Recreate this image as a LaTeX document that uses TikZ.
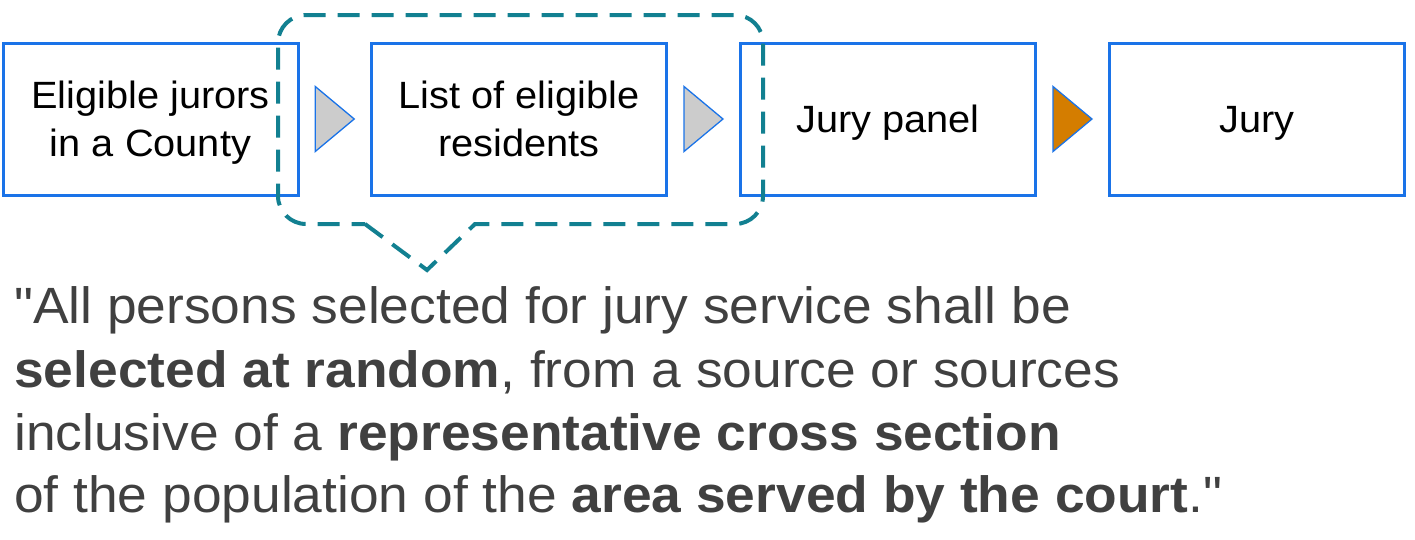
\documentclass[tikz,border=0pt]{standalone}
\usepackage{fontspec}
\setmainfont{Liberation Sans}[Ligatures=TeXOff]
\usetikzlibrary{calc}
\definecolor{boxblue}{RGB}{26,115,232}
\definecolor{calloutteal}{RGB}{18,128,145}
\definecolor{trigray}{RGB}{204,204,204}
\definecolor{triorange}{RGB}{212,125,0}
\definecolor{quotegray}{RGB}{64,64,64}
\newcommand\hwide[1]{\scalebox{1.046}[1]{#1}}
\tikzset{
  stagebox/.style={draw=boxblue, line width=3pt, fill=white, minimum width=295pt, minimum height=152pt, inner sep=0pt, align=center, text height=27pt, text depth=0pt, font=\fontsize{38}{48}\selectfont},
  twoline/.style={text height=75pt},
  tri/.style={draw=boxblue, line width=1.3pt, fill=trigray, line join=miter},
  trio/.style={tri, fill=triorange},
  callout/.style={draw=calloutteal, line width=4pt, dash pattern=on 22pt off 12pt},
  quoteline/.style={anchor=base west, inner sep=0pt, text=quotegray, font=\fontsize{51}{63}\selectfont}
}
\begin{document}
\begin{tikzpicture}[x=1pt, y=-1pt]
\useasboundingbox (0,0) rectangle (1415,539);
\node[stagebox, twoline] (b1) at (150.5,119) {\hwide{Eligible jurors}\\\hwide{in a County}};
\node[stagebox, twoline] (b2) at (519,119) {\hwide{List of eligible}\\\hwide{residents}};
\node[stagebox] (b3) at (888,119) {\hwide{Jury panel}};
\node[stagebox] (b4) at (1257,119) {\hwide{Jury}};
\path (b1.east) -- (b2.west) coordinate[pos=0.5] (m1);
\path (b2.east) -- (b3.west) coordinate[pos=0.5] (m2);
\path (b3.east) -- (b4.west) coordinate[pos=0.5] (m3);
\filldraw[tri] ($(m1)+(-19.5,-32.5)$) -- ($(m1)+(19.5,0)$) -- ($(m1)+(-19.5,32.5)$) -- cycle;
\filldraw[tri] ($(m2)+(-19.5,-32.5)$) -- ($(m2)+(19.5,0)$) -- ($(m2)+(-19.5,32.5)$) -- cycle;
\filldraw[trio] ($(m3)+(-19.5,-32.5)$) -- ($(m3)+(19.5,0)$) -- ($(m3)+(-19.5,32.5)$) -- cycle;
\coordinate (tip) at (427,270);
\draw[callout] (365,224) -- (tip) -- (475,224) [rounded corners=28pt] -- (763,224) -- (763,15) -- (278,15) -- (278,224) -- (365,224);
\node[quoteline] (q1) at (14,323) {\hwide{"All persons selected for jury service shall be}};
\node[quoteline] (q2) at (14,387) {\hwide{\textbf{selected at random}, from a source or sources}};
\node[quoteline] (q3) at (14,450) {\hwide{inclusive of a \textbf{representative cross section}}};
\node[quoteline] (q4) at (14,512) {\hwide{of the population of the \textbf{area served by the court}."}};
\end{tikzpicture}
\end{document}
